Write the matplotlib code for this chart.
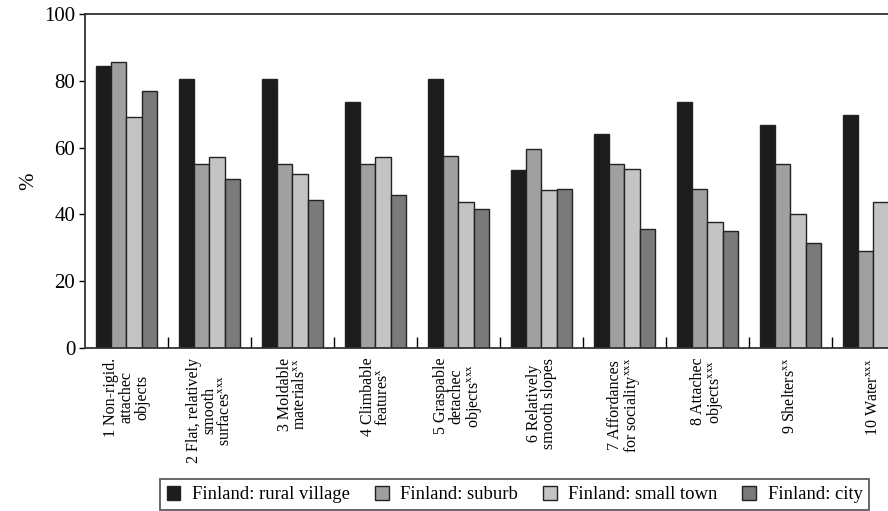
import matplotlib
matplotlib.use("Agg")
import matplotlib.pyplot as plt
import numpy as np

plt.rcParams["font.family"] = ["Liberation Serif", "DejaVu Serif"]
plt.rcParams["mathtext.fontset"] = "stix"

categories = [
    "1 Non-rigid.\nattachec\nobjects",
    "2 Flat, relatively\nsmooth\nsurfaces$^{\\mathrm{xxx}}$",
    "3 Moldable\nmaterials$^{\\mathrm{xx}}$",
    "4 Climbable\nfeatures$^{\\mathrm{x}}$",
    "5 Graspable\ndetachec\nobjects$^{\\mathrm{xxx}}$",
    "6 Relatively\nsmooth slopes",
    "7 Affordances\nfor sociality$^{\\mathrm{xxx}}$",
    "8 Attachec\nobjects$^{\\mathrm{xxx}}$",
    "9 Shelters$^{\\mathrm{xx}}$",
    "10 Water$^{\\mathrm{xxx}}$",
]

series_names = [
    "Finland: rural village",
    "Finland: suburb",
    "Finland: small town",
    "Finland: city",
]
rural_village = [84.5, 80.4, 80.4, 73.7, 80.4, 53.3, 64.1, 73.7, 66.8, 69.7]
suburb = [85.7, 55.1, 55.1, 55.1, 57.6, 59.7, 55.1, 47.6, 55.1, 29.1]
small_town = [69.1, 57.2, 52.2, 57.2, 43.6, 47.2, 53.7, 37.8, 40.0, 43.7]
city = [77.0, 50.6, 44.3, 45.8, 41.6, 47.5, 35.7, 35.1, 31.4, 33.4]

colors = ["#1c1c1c", "#a0a0a0", "#c4c4c4", "#7a7a7a"]

fig = plt.figure(figsize=(8.88, 5.11), dpi=100)
ax = fig.add_axes([85 / 888, 1 - 348 / 511, 1 - 85 / 888, (348 - 14) / 511])

x = np.arange(len(categories))
width = 0.184
for i, (vals, name, col) in enumerate(zip([rural_village, suburb, small_town, city], series_names, colors)):
    ax.bar(x + (i - 1.5) * width, vals, width, color=col, edgecolor="#222222",
           linewidth=1.0, label=name, zorder=2)

ax.set_xlim(-0.5, 9.175)
ax.set_ylim(0, 100)
ax.set_yticks([0, 20, 40, 60, 80, 100])
ax.tick_params(axis="y", labelsize=15, direction="out", length=4, width=1.0, pad=3)

ax.set_xticks(x)
ax.set_xticklabels(categories, rotation=90, fontsize=11.5, linespacing=0.95,
                   multialignment="center")
ax.tick_params(axis="x", which="major", length=0, pad=7)
ax.set_xticks(x[:-1] + 0.5, minor=True)
ax.tick_params(axis="x", which="minor", direction="in", length=8, width=1.0)

for side in ["left", "bottom", "top"]:
    ax.spines[side].set_linewidth(1.3)
    ax.spines[side].set_color("#333333")
ax.spines["right"].set_visible(False)

# "%" label sits well left of the tick labels
ax.set_ylabel("%", fontsize=15)
ax.yaxis.set_label_coords(-47 / 803, 0.5)

leg = fig.legend(loc="lower left", bbox_to_anchor=(160 / 888, 1 / 511), ncol=4,
                 fontsize=13.4, frameon=True, fancybox=False, handlelength=0.75,
                 handleheight=0.8, handletextpad=0.6, columnspacing=1.35,
                 borderpad=0.35, borderaxespad=0)
leg.get_frame().set_edgecolor("#333333")
leg.get_frame().set_linewidth(1.3)

fig.savefig("out.png", dpi=100)
